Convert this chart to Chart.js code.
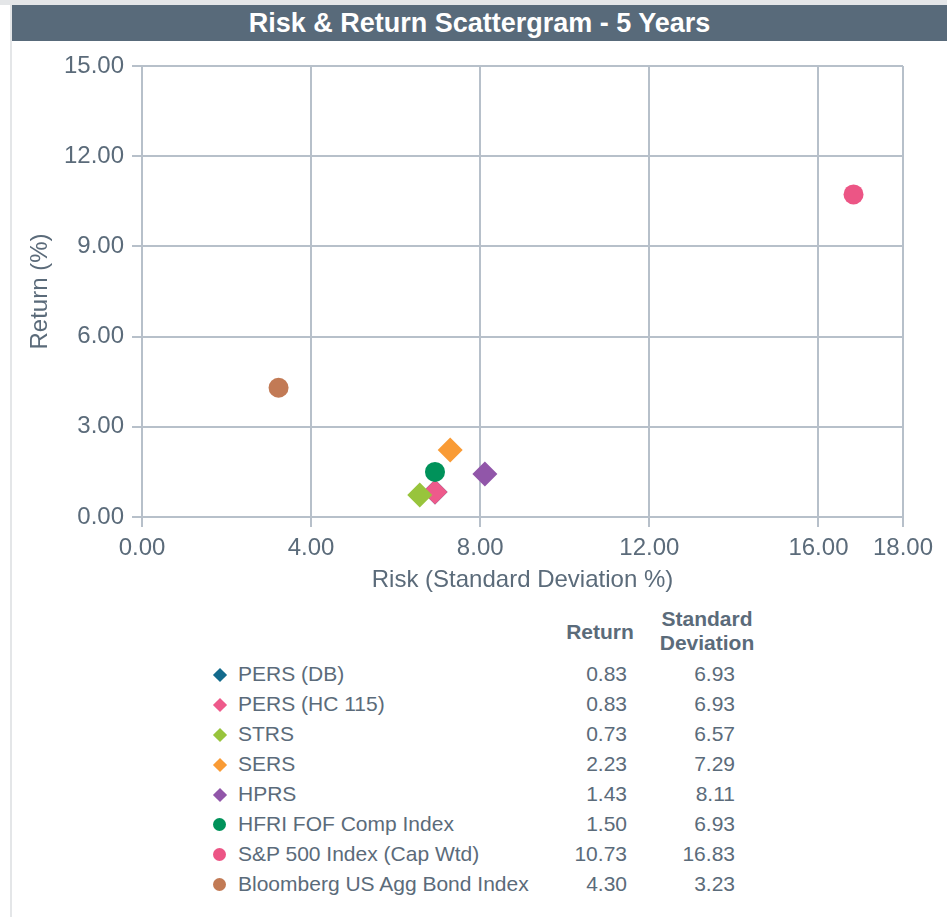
<!DOCTYPE html>
<html>
<head>
<meta charset="utf-8">
<script src="https://cdn.jsdelivr.net/npm/chart.js@4/dist/chart.umd.min.js"></script>
<style>
  body { margin: 0; background: #fff; font-family: "Liberation Sans", Arial, sans-serif; }
  #page { position: relative; width: 947px; height: 917px; overflow: hidden; }
  #topband { position: absolute; left: 0; top: 0; width: 947px; height: 5px; background: #e4e6e8; }
  #frame { position: absolute; left: 10px; top: 5px; width: 2px; height: 912px; background: #e4e6e8; }
  #title { position: absolute; left: 12px; top: 5px; width: 935px; height: 36px; background: #586a7a;
    color: #fff; font-weight: bold; font-size: 27px; line-height: 36px; text-align: center; }
  #chartBox { position: absolute; left: 0; top: 41px; width: 947px; height: 556px; }
  .lg { position: absolute; color: #5b6b7a; font-size: 21px; white-space: nowrap; }
  .hd { position: absolute; color: #5b6b7a; font-size: 21px; font-weight: bold; text-align: center; line-height: 24px; }
  .mk { position: absolute; }
</style>
</head>
<body>
<div id="page">
  <div id="topband"></div>
  <div id="frame"></div>
  <div id="title">Risk &amp; Return Scattergram - 5 Years</div>
  <div id="chartBox"><canvas id="scatter" width="947" height="556"></canvas></div>
  <div id="legend"></div>
</div>
<script>
const seriesNames = ['PERS (DB)', 'PERS (HC 115)', 'STRS', 'SERS', 'HPRS',
  'HFRI FOF Comp Index', 'S&P 500 Index (Cap Wtd)', 'Bloomberg US Agg Bond Index'];
const returns = [0.83, 0.83, 0.73, 2.23, 1.43, 1.50, 10.73, 4.30];
const stdDevs = [6.93, 6.93, 6.57, 7.29, 8.11, 6.93, 16.83, 3.23];
const xTicks = [0, 4, 8, 12, 16, 18];
const yTicks = [0, 3, 6, 9, 12, 15];

const colors = ['#136a8c', '#ee5a8b', '#98c43c', '#f99b35', '#9156a9', '#00925a', '#ec5585', '#c27a55'];
const shapes = ['rectRot', 'rectRot', 'rectRot', 'rectRot', 'rectRot', 'circle', 'circle', 'circle'];

const textColor = '#5b6b7a';
const gridColor = '#b7c0ca';

function drawChart() {
  const datasets = seriesNames.map((name, i) => ({
    label: name,
    data: [{ x: stdDevs[i], y: returns[i] }],
    backgroundColor: colors[i],
    borderWidth: 0,
    pointStyle: shapes[i],
    pointRadius: shapes[i] === 'circle' ? 10 : 12.5,
    order: seriesNames.length - i   // later series sit on top
  }));

  const ctx = document.getElementById('scatter').getContext('2d');
  new Chart(ctx, {
    type: 'scatter',
    data: { datasets },
    options: {
      responsive: false,
      animation: false,
      devicePixelRatio: 1,
      // padding works as a minimum here (label overflow is already inside it)
      layout: { padding: { top: 25, right: 44, left: 0, bottom: 0 } },
      plugins: { legend: { display: false }, tooltip: { enabled: false } },
      scales: {
        x: {
          type: 'linear', min: 0, max: 18,
          afterBuildTicks: s => { s.ticks = xTicks.map(v => ({ value: v })); },
          afterFit: s => { s.height = 80; },
          ticks: { color: textColor, font: { size: 24, family: 'Liberation Sans' }, padding: 7,
            maxRotation: 0, autoSkip: false, callback: v => Number(v).toFixed(2) },
          grid: { color: gridColor, lineWidth: 2, tickLength: 10 },
          border: { color: gridColor, width: 2 },
          title: { display: true, text: 'Risk (Standard Deviation %)', color: textColor,
            font: { size: 24, family: 'Liberation Sans' }, padding: { top: 0, bottom: 2 } }
        },
        y: {
          type: 'linear', min: 0, max: 15,
          afterBuildTicks: s => { s.ticks = yTicks.map(v => ({ value: v })); },
          afterFit: s => { s.width = 142; },
          ticks: { color: textColor, font: { size: 24, family: 'Liberation Sans' }, padding: 8,
            callback: v => Number(v).toFixed(2) },
          grid: { color: gridColor, lineWidth: 2, tickLength: 10 },
          border: { color: gridColor, width: 2 },
          title: { display: true, text: 'Return (%)', color: textColor,
            font: { size: 24, family: 'Liberation Sans' }, padding: { top: 26, bottom: 0 } }
        }
      }
    }
  });
}

// legend table under the chart
function drawLegend() {
  const box = document.getElementById('legend');
  let html = '';
  html += '<div class="hd" style="left:550px;top:620px;width:100px;">Return</div>';
  html += '<div class="hd" style="left:647px;top:607px;width:120px;">Standard<br>Deviation</div>';
  seriesNames.forEach((name, i) => {
    const cy = 674 + i * 30;
    if (shapes[i] === 'circle') {
      html += `<div class="mk" style="left:213px;top:${cy - 6}px;width:13px;height:13px;border-radius:7px;background:${colors[i]}"></div>`;
    } else {
      html += `<div class="mk" style="left:215px;top:${cy - 4}px;width:10px;height:10px;background:${colors[i]};transform:rotate(45deg)"></div>`;
    }
    html += `<div class="lg" style="left:238px;top:${cy - 12}px;line-height:24px;">${name.replace('&', '&amp;')}</div>`;
    html += `<div class="lg" style="left:527px;top:${cy - 12}px;width:100px;text-align:right;line-height:24px;">${returns[i].toFixed(2)}</div>`;
    html += `<div class="lg" style="left:635px;top:${cy - 12}px;width:100px;text-align:right;line-height:24px;">${stdDevs[i].toFixed(2)}</div>`;
  });
  box.innerHTML = html;
}

document.addEventListener('DOMContentLoaded', () => {
  drawChart();
  drawLegend();
});
</script>
</body>
</html>
